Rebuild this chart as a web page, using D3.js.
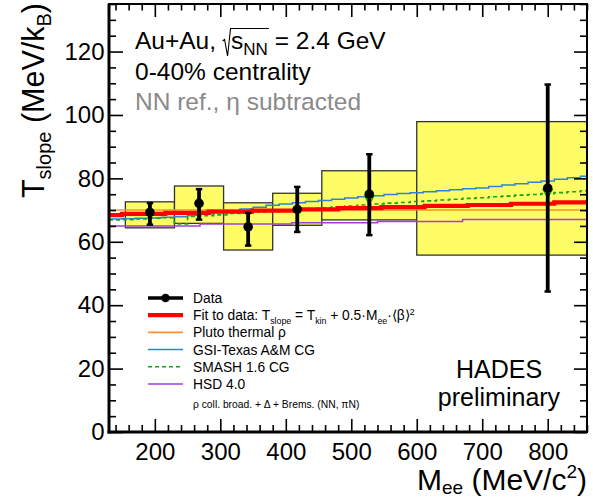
<!DOCTYPE html>
<html><head><meta charset="utf-8">
<script src="https://cdn.jsdelivr.net/npm/d3@7/dist/d3.min.js"></script>
<style>
body{margin:0;background:#fff}
svg{display:block}
text{font-family:"Liberation Sans",Arial,Helvetica,sans-serif;fill:#000}
</style>
</head><body>
<svg id="chart" width="593" height="498"></svg>
<script>
// ---- measured slope parameters per invariant-mass bin (MeV/c^2, MeV/k_B) ----
const binLo    = [155, 230, 305, 380, 455, 600];
const binHi    = [230, 305, 380, 455, 600, 1000];
const massMean = [192.5, 267.5, 342.5, 417.5, 527.5, 800];
const tSlope   = [69.3, 72.1, 64.7, 70.2, 75.0, 76.9];
const statLo   = [65.4, 67.0, 58.8, 63.1, 62.1, 44.3];
const statHi   = [72.2, 76.6, 69.1, 77.3, 87.6, 109.6];
const sysLo    = [64.4, 65.8, 57.4, 65.2, 66.9, 55.8];
const sysHi    = [72.6, 77.6, 72.3, 75.3, 82.4, 97.9];

// ---- fit to data, drawn as a binned curve ----
const fitEdges = [130, 150, 216, 282, 348, 414, 480, 546, 612, 678, 744, 810, 860];
const fitT     = [68.4, 68.8, 69.1, 69.5, 69.8, 70.2, 70.6, 70.9, 71.3, 71.6, 72.0, 72.4];

// ---- model predictions ----
const plutoEdges = [130, 860];
const plutoT     = [70.0];

// transport / coarse-grained models on 20 MeV bins starting at 130 MeV
const modelEdges = [130,150,170,190,210,230,250,270,290,310,330,350,370,390,410,430,450,470,490,
                    510,530,550,570,590,610,630,650,670,690,710,730,750,770,790,810,830,850,860];
const gsiT   = [67.2,67.3,67.4,67.5,67.7,67.9,68.3,68.8,69.3,69.8,70.3,70.9,71.5,71.9,72.3,72.7,73.0,73.4,73.8,
                74.2,74.5,74.9,75.2,75.5,75.8,76.1,76.4,76.7,77.0,77.4,77.9,78.3,78.8,79.2,79.7,80.2,80.7];
const smashT = [66.9,67.0,67.2,67.4,67.6,65.6,68.0,68.2,68.5,68.9,69.1,69.4,69.6,69.9,70.1,70.4,70.7,71.0,71.3,
                71.6,71.9,72.2,72.4,72.7,72.9,73.2,73.4,73.7,73.9,74.2,74.4,74.7,74.9,75.2,75.5,75.8,76.1];
const hsdEdges = [130, 269, 409, 540, 670, 860];
const hsdT     = [65.0, 65.6, 66.0, 66.4, 67.0];

// SMASH values shown as markers at two data bins
const smashMarkM = [527.5, 800];
const smashMarkT = [73.3, 75.3];

// ---- axes ----
const xDomain = [130, 860];
const yDomain = [0, 135];
const xMajor = [200, 300, 400, 500, 600, 700, 800];
const yMajor = [0, 20, 40, 60, 80, 100, 120];

// ---- layout ----
const L = 109, R = 587, T = 4, B = 432;
const svg = d3.select("#chart");
const x = d3.scaleLinear().domain(xDomain).range([L, R]);
const y = d3.scaleLinear().domain(yDomain).range([B, T]);

svg.append("defs").append("clipPath").attr("id", "plotClip")
  .append("rect").attr("x", L).attr("y", T).attr("width", R - L).attr("height", B - T);

const plot = svg.append("g").attr("clip-path", "url(#plotClip)");

// systematic uncertainty boxes
plot.selectAll("rect.sys").data(binLo).join("rect")
  .attr("class", "sys")
  .attr("x", (d, i) => x(binLo[i]))
  .attr("width", (d, i) => x(binHi[i]) - x(binLo[i]))
  .attr("y", (d, i) => y(sysHi[i]))
  .attr("height", (d, i) => y(sysLo[i]) - y(sysHi[i]))
  .attr("fill", "#fefd66").attr("stroke", "#333").attr("stroke-width", 1.3);

// binned curves
function stepPath(edges, vals) {
  const pts = vals.map((v, i) => [edges[i], v]);
  pts.push([edges[edges.length - 1], vals[vals.length - 1]]);
  return d3.line().x(d => x(d[0])).y(d => y(d[1])).curve(d3.curveStepAfter)(pts);
}
plot.append("path").attr("d", stepPath(plutoEdges, plutoT))
  .attr("fill", "none").attr("stroke", "#ff9030").attr("stroke-width", 1.6);
plot.append("path").attr("d", stepPath(modelEdges, gsiT))
  .attr("fill", "none").attr("stroke", "#2a84dc").attr("stroke-width", 1.5);
plot.append("path").attr("d", stepPath(modelEdges, smashT))
  .attr("fill", "none").attr("stroke", "#17a317").attr("stroke-width", 1.6)
  .attr("stroke-dasharray", "4,3");
plot.append("path").attr("d", stepPath(hsdEdges, hsdT))
  .attr("fill", "none").attr("stroke", "#a63cd9").attr("stroke-width", 1.5);
plot.append("path").attr("d", stepPath(fitEdges, fitT))
  .attr("fill", "none").attr("stroke", "#ff0000").attr("stroke-width", 4.2);

// SMASH markers (open down-triangles)
plot.selectAll("path.smk").data(smashMarkM).join("path")
  .attr("class", "smk")
  .attr("transform", (d, i) => `translate(${x(d)},${y(smashMarkT[i])})`)
  .attr("d", "M-4.5,-3.5 L4.5,-3.5 L0,4.5 Z")
  .attr("fill", "none").attr("stroke", "#17a317").attr("stroke-width", 1.4);

// data with statistical errors
const dataG = plot.append("g");
dataG.selectAll("line.err").data(massMean).join("line")
  .attr("class", "err")
  .attr("x1", d => x(d)).attr("x2", d => x(d))
  .attr("y1", (d, i) => y(statLo[i])).attr("y2", (d, i) => y(statHi[i]))
  .attr("stroke", "#000").attr("stroke-width", 3.8);
["lo", "hi"].forEach(k => {
  dataG.selectAll("line.cap" + k).data(massMean).join("line")
    .attr("class", "cap" + k)
    .attr("x1", d => x(d) - 3.2).attr("x2", d => x(d) + 3.2)
    .attr("y1", (d, i) => y(k === "lo" ? statLo[i] : statHi[i]))
    .attr("y2", (d, i) => y(k === "lo" ? statLo[i] : statHi[i]))
    .attr("stroke", "#000").attr("stroke-width", 2.5);
});
dataG.selectAll("circle").data(massMean).join("circle")
  .attr("cx", d => x(d)).attr("cy", (d, i) => y(tSlope[i])).attr("r", 4.8).attr("fill", "#000");

// ---- axes & frame ----
const xMinor = d3.range(140, 861, 20).filter(v => !xMajor.includes(v));
const yMinor = d3.range(0, 136, 5).filter(v => !yMajor.includes(v));

function ax(gen, tx, ty, vals, size, labels) {
  const g = svg.append("g").attr("transform", `translate(${tx},${ty})`)
    .call(gen.tickValues(vals).tickSize(size).tickPadding(labels ? labels : 0)
      .tickFormat(labels ? d3.format("d") : ""));
  g.select(".domain").remove();
  g.selectAll(".tick line").attr("stroke", "#000").attr("stroke-width", 1.6);
  return g;
}
const gxb = ax(d3.axisBottom(x), 0, B, xMajor, -13, 10.5);
ax(d3.axisBottom(x), 0, B, xMinor, -7, 0);
ax(d3.axisTop(x), 0, T, xMajor, -13, 0);
ax(d3.axisTop(x), 0, T, xMinor, -6.5, 0);
const gyl = ax(d3.axisLeft(y), L, 0, yMajor, -14, 4.5);
ax(d3.axisLeft(y), L, 0, yMinor, -7, 0);
ax(d3.axisRight(y), R, 0, yMajor, -13, 0);
ax(d3.axisRight(y), R, 0, yMinor, -7, 0);
gxb.selectAll("text").attr("font-size", 24).attr("font-family", '"Liberation Sans",Arial,sans-serif').attr("fill", "#000");
gyl.selectAll("text").attr("font-size", 24).attr("font-family", '"Liberation Sans",Arial,sans-serif').attr("fill", "#000");

svg.append("rect").attr("x", L).attr("y", T).attr("width", R - L).attr("height", B - T)
  .attr("fill", "none").attr("stroke", "#000").attr("stroke-width", 2);
svg.append("line").attr("x1", L).attr("x2", L).attr("y1", T).attr("y2", B + 1.5)
  .attr("stroke", "#000").attr("stroke-width", 3);
svg.append("line").attr("x1", L - 1.5).attr("x2", R).attr("y1", B).attr("y2", B)
  .attr("stroke", "#000").attr("stroke-width", 3);

// ---- rich text helper: segments of [text, fontSize, dy] ----
function rich(parent, px, py, segs, opts = {}) {
  const t = parent.append("text").attr("x", px).attr("y", py)
    .attr("text-anchor", opts.anchor || "start");
  if (opts.rotate) t.attr("transform", `rotate(${opts.rotate},${px},${py})`);
  if (opts.fill) t.style("fill", opts.fill);
  segs.forEach(s => {
    t.append("tspan").attr("font-size", s[1]).attr("dy", s[2] || 0).text(s[0]);
  });
  return t;
}

// axis titles
rich(svg, 44, 3, [["T", 30.5], ["slope", 20, 7], [" (MeV/k", 30.5, -7], ["B", 20, 7], [")", 30.5, -7]],
  { anchor: "end", rotate: -90 });
rich(svg, 587, 489.5, [["M", 30], ["ee", 19, 4.5], [" (MeV/c", 30, -4.5], ["2", 19, -12], [")", 30, 12]],
  { anchor: "end" });

// header text
const hfs = 24.5;
const hdr = svg.append("g");
const t1a = rich(hdr, 135, 49, [["Au+Au,", hfs]]);
const radX = 135 + t1a.node().getComputedTextLength() + 6;
const t1b = rich(hdr, radX + 9, 49, [["s", hfs], ["NN", 17, 6], ["\u00a0= 2.4 GeV", hfs, -6]]);
const sEnd = radX + 9 + t1b.node().getSubStringLength(0, 3);
hdr.append("path")
  .attr("d", `M${radX + 0.5},41 L${radX + 2.5},39.5 L${radX + 5.5},56 L${radX + 8.5},28.5 L${sEnd + 1},28.5`)
  .attr("fill", "none").attr("stroke", "#000").attr("stroke-width", 1.1);
rich(hdr, 135, 80, [["0-40% centrality", hfs]]);
rich(hdr, 135, 110, [["NN ref., \u03b7 subtracted", hfs]], { fill: "#8a8a8a" });

// experiment label
svg.append("text").attr("x", 499).attr("y", 378).attr("text-anchor", "middle")
  .attr("font-size", 25).text("HADES");
svg.append("text").attr("x", 499).attr("y", 405.5).attr("text-anchor", "middle")
  .attr("font-size", 25).text("preliminary");

// ---- legend ----
const lg = svg.append("g");
const lx0 = 148, lx1 = 183, ltx = 193, ly0 = 298, ldy = 17.2;
const legendRows = [
  { color: "#000", w: 3.5, marker: true },
  { color: "#ff0000", w: 4.2 },
  { color: "#ff9030", w: 1.6 },
  { color: "#2a84dc", w: 1.5 },
  { color: "#17a317", w: 1.6, dash: "4,3" },
  { color: "#a63cd9", w: 1.5 }
];
legendRows.forEach((r, i) => {
  const yy = ly0 + i * ldy;
  lg.append("line").attr("x1", lx0).attr("x2", lx1).attr("y1", yy).attr("y2", yy)
    .attr("stroke", r.color).attr("stroke-width", r.w).attr("stroke-dasharray", r.dash || null);
  if (r.marker) lg.append("circle").attr("cx", (lx0 + lx1) / 2).attr("cy", yy).attr("r", 4.3).attr("fill", "#000");
});
const fs = 13.8, fsub = 8.8;
rich(lg, ltx, ly0 + 5, [["Data", fs]]);
rich(lg, ltx, ly0 + ldy + 5, [["Fit to data: T", fs], ["slope", fsub, 3.5], ["\u00a0= T", fs, -3.5], ["kin", fsub, 3.5],
  ["\u00a0+ 0.5\u00b7M", fs, -3.5], ["ee", fsub, 3.5], ["\u00b7\u27e8\u03b2\u27e9", fs, -3.5], ["2", fsub, -5.5]]);
rich(lg, ltx, ly0 + 2 * ldy + 5, [["Pluto thermal \u03c1", fs]]);
rich(lg, ltx, ly0 + 3 * ldy + 5, [["GSI-Texas A&M CG", fs]]);
rich(lg, ltx, ly0 + 4 * ldy + 5, [["SMASH 1.6 CG", fs]]);
rich(lg, ltx, ly0 + 5 * ldy + 5, [["HSD 4.0", fs]]);
rich(lg, ltx, ly0 + 6 * ldy + 7, [["\u03c1 coll. broad. + \u0394 + Brems. (NN, \u03c0N)", 10.3]]);
</script>
</body></html>
